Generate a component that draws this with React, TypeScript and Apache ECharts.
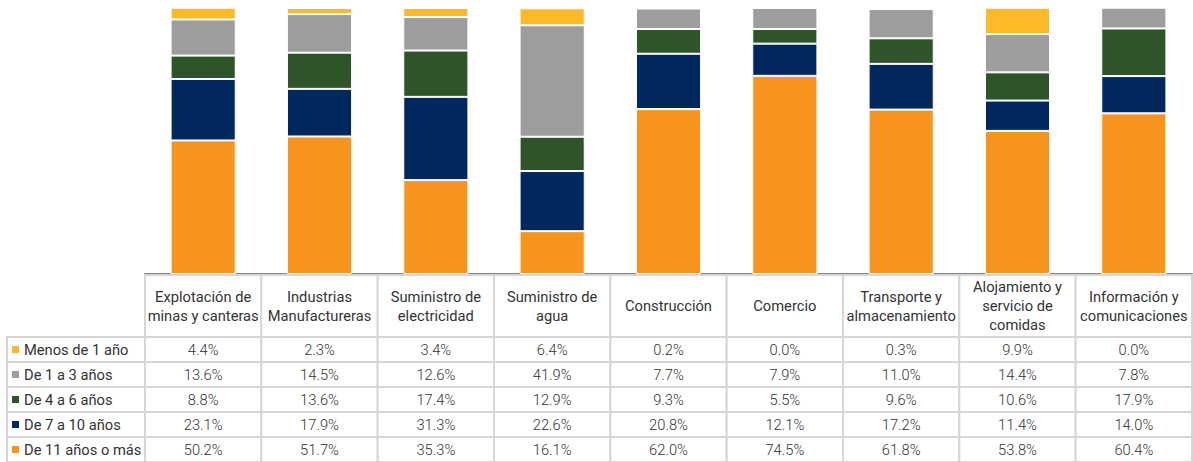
import React, { useEffect, useRef } from "react";
import * as echarts from "echarts";

const categories = [
  "Explotación de\nminas y canteras",
  "Industrias\nManufactureras",
  "Suministro de\nelectricidad",
  "Suministro de\nagua",
  "Construcción",
  "Comercio",
  "Transporte y\nalmacenamiento",
  "Alojamiento y\nservicio de\ncomidas",
  "Información y\ncomunicaciones",
];

const seriesNames = [
  "Menos de 1 año",
  "De 1 a 3 años",
  "De 4 a 6 años",
  "De 7 a 10 años",
  "De 11 años o más",
];

const menos1 = [4.4, 2.3, 3.4, 6.4, 0.2, 0.0, 0.3, 9.9, 0.0];
const de1a3 = [13.6, 14.5, 12.6, 41.9, 7.7, 7.9, 11.0, 14.4, 7.8];
const de4a6 = [8.8, 13.6, 17.4, 12.9, 9.3, 5.5, 9.6, 10.6, 17.9];
const de7a10 = [23.1, 17.9, 31.3, 22.6, 20.8, 12.1, 17.2, 11.4, 14.0];
const de11 = [50.2, 51.7, 35.3, 16.1, 62.0, 74.5, 61.8, 53.8, 60.4];

const seriesData = [menos1, de1a3, de4a6, de7a10, de11];
const seriesColors = ["#FDB927", "#9D9D9D", "#2F5429", "#00285E", "#F7941D"];

const W = 1193;
const H = 462;
const GRID_LEFT = 145;
const GRID_RIGHT = 1;
const GRID_TOP = 8;
const AXIS_Y = 274;
const HEADER_TOP = 275;
const HEADER_BOTTOM = 337;
const ROW_H = 25;
const LEGEND_LEFT = 7;
const FONT = "Roboto, sans-serif";
const FONT_SIZE = 14.7;
const TEXT_COLOR = "#333333";
const BORDER = "#d6d6d6";

export default function App() {
  const ref = useRef<HTMLDivElement>(null);

  useEffect(() => {
    if (!ref.current) return;
    const chart = echarts.init(ref.current, null, { renderer: "svg" });

    const bandW = (W - GRID_LEFT - GRID_RIGHT) / categories.length;
    const graphics: any[] = [];

    const textStyle = (text: string, align: string, weight: number) => ({
      text,
      fill: TEXT_COLOR,
      fontSize: FONT_SIZE,
      fontFamily: FONT,
      fontWeight: weight,
      lineHeight: 19,
      align,
      verticalAlign: "middle",
      textAlign: align,
      textVerticalAlign: "middle",
    });

    categories.forEach((c, i) => {
      const x0 = GRID_LEFT + i * bandW;
      graphics.push({
        type: "rect",
        shape: { x: x0, y: HEADER_TOP, width: bandW, height: HEADER_BOTTOM - HEADER_TOP },
        style: { fill: "#fff", stroke: BORDER, lineWidth: 2 },
        z: 1,
      });
      graphics.push({
        type: "text",
        x: x0 + bandW / 2,
        y: (HEADER_TOP + HEADER_BOTTOM) / 2,
        style: textStyle(c, "center", 400),
        z: 3,
      });
    });

    seriesNames.forEach((name, r) => {
      const y0 = HEADER_BOTTOM + r * ROW_H;
      const yc = y0 + ROW_H / 2;
      graphics.push({
        type: "rect",
        shape: { x: LEGEND_LEFT, y: y0, width: GRID_LEFT - LEGEND_LEFT, height: ROW_H },
        style: { fill: "#fff", stroke: BORDER, lineWidth: 2 },
        z: 1,
      });
      graphics.push({
        type: "rect",
        shape: { x: 12, y: yc - 3.5, width: 7, height: 7 },
        style: { fill: seriesColors[r] },
        z: 3,
      });
      graphics.push({
        type: "text",
        x: 24,
        y: yc,
        style: textStyle(name, "left", 400),
        z: 3,
      });
      seriesData[r].forEach((v, i) => {
        const x0 = GRID_LEFT + i * bandW;
        graphics.push({
          type: "rect",
          shape: { x: x0, y: y0, width: bandW, height: ROW_H },
          style: { fill: "#fff", stroke: BORDER, lineWidth: 2 },
          z: 1,
        });
        graphics.push({
          type: "text",
          x: x0 + bandW / 2,
          y: yc,
          style: textStyle(v.toFixed(1) + "%", "center", 300),
          z: 3,
        });
      });
    });

    const stackOrder = [4, 3, 2, 1, 0];

    chart.setOption({
      animation: false,
      grid: {
        left: GRID_LEFT,
        right: GRID_RIGHT,
        top: GRID_TOP,
        bottom: H - AXIS_Y,
        containLabel: false,
      },
      xAxis: {
        type: "category",
        data: categories,
        axisLine: { show: true, lineStyle: { color: "#858585", width: 2 } },
        axisTick: { show: false },
        axisLabel: { show: false },
        splitLine: { show: false },
      },
      yAxis: {
        type: "value",
        min: 0,
        max: 100,
        show: false,
        splitLine: { show: false },
      },
      series: stackOrder.map((idx) => ({
        name: seriesNames[idx],
        type: "bar",
        stack: "total",
        barWidth: "56%",
        data: seriesData[idx],
        itemStyle: {
          color: seriesColors[idx],
          borderColor: "#ffffff",
          borderWidth: 1,
        },
      })),
      graphic: graphics,
    });

    return () => chart.dispose();
  }, []);

  return (
    <div
      ref={ref}
      style={{ position: "fixed", left: 0, top: 0, width: W, height: H, background: "#fff" }}
    />
  );
}
